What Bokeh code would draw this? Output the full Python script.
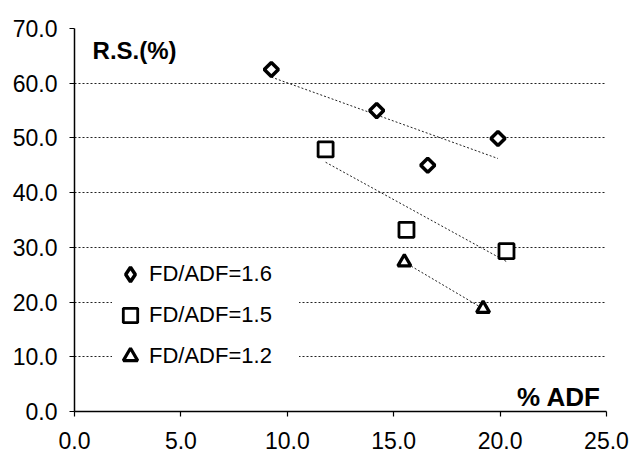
import numpy as np
from bokeh.plotting import figure
from bokeh.models import Legend, LegendItem, Label, FixedTicker, PrintfTickFormatter, Range1d
from bokeh.embed import file_html
from bokeh.resources import INLINE

# ---- data ----
adf_16 = [9.25, 14.2, 16.6, 19.9]
rs_16 = [62.5, 55.0, 45.0, 49.9]
adf_15 = [11.8, 15.6, 20.3]
rs_15 = [47.9, 33.2, 29.3]
adf_12 = [15.5, 19.2]
rs_12 = [27.3, 18.8]
labels = ["FD/ADF=1.6", "FD/ADF=1.5", "FD/ADF=1.2"]
x_ticks = [0, 5, 10, 15, 20, 25]
y_ticks = [0, 10, 20, 30, 40, 50, 60, 70]

FONT = "Liberation Sans"

p = figure(width=631, height=454, x_range=Range1d(0, 25), y_range=Range1d(0, 70),
           output_backend="svg", toolbar_location=None,
           min_border_left=74, min_border_right=25, min_border_top=28, min_border_bottom=43)
p.outline_line_color = None
p.background_fill_color = "white"
p.xgrid.grid_line_color = None
p.ygrid.grid_line_color = "#222222"
p.ygrid.grid_line_dash = "2 2"
p.ygrid.grid_line_width = 1
p.ygrid.ticker = FixedTicker(ticks=y_ticks)

for ax, ticks in ((p.xaxis, x_ticks), (p.yaxis, y_ticks)):
    ax.ticker = FixedTicker(ticks=ticks)
    ax.formatter = PrintfTickFormatter(format="%.1f")
    ax.axis_line_color = "black"
    ax.axis_line_width = 1.5
    ax.major_tick_line_color = "black"
    ax.major_tick_line_width = 1.2
    ax.major_tick_out = 5
    ax.major_tick_in = 0
    ax.minor_tick_line_color = None
    ax.major_label_text_font = FONT
    ax.major_label_text_font_size = "23px"
    ax.major_label_text_color = "black"
p.yaxis.major_label_standoff = 12
p.xaxis.major_label_standoff = 15

def trend(xs, ys):
    k, b = np.polyfit(xs, ys, 1)
    xx = np.array([min(xs), max(xs)])
    return xx, k * xx + b

for xs, ys in ((adf_16, rs_16), (adf_15, rs_15), (adf_12, rs_12)):
    tx, ty = trend(xs, ys)
    p.line(tx, ty, line_color="#222222", line_dash="2 2", line_width=1)

# legend key for the diamond series (legend ignores marker angle); hidden under the data marks
r16_key = p.scatter(adf_16, rs_16, marker="diamond", size=6,
                    line_color="black", line_width=3.5, fill_color="white")
r16 = p.scatter(adf_16, rs_16, marker="square", size=10, angle=np.pi / 4,
                line_color="black", line_width=3.5, fill_color="white")
r15 = p.scatter(adf_15, rs_15, marker="square", size=15,
                line_color="black", line_width=2.8, fill_color="white")
r12 = p.scatter(adf_12, rs_12, marker="triangle", size=13,
                line_color="black", line_width=3.2, fill_color="white")

legend = Legend(items=[LegendItem(label=labels[0], renderers=[r16_key]),
                       LegendItem(label=labels[1], renderers=[r15]),
                       LegendItem(label=labels[2], renderers=[r12])],
                location=(38, 37), orientation="vertical",
                glyph_width=36, glyph_height=36, label_height=36, spacing=5,
                padding=4, margin=0, label_standoff=1, label_width=150,
                label_text_font=FONT, label_text_font_size="22px", label_text_color="black",
                border_line_color=None, background_fill_color="white", background_fill_alpha=1.0)
p.add_layout(legend)

p.add_layout(Label(x=0.85, y=66.0, text="R.S.(%)", text_font=FONT, text_font_size="24px",
                   text_font_style="bold", text_color="black", text_baseline="middle"))
p.add_layout(Label(x=20.8, y=2.65, text="% ADF", text_font=FONT, text_font_size="26px",
                   text_font_style="bold", text_color="black", text_baseline="middle"))

open("out.html", "w").write(file_html(p, INLINE))
